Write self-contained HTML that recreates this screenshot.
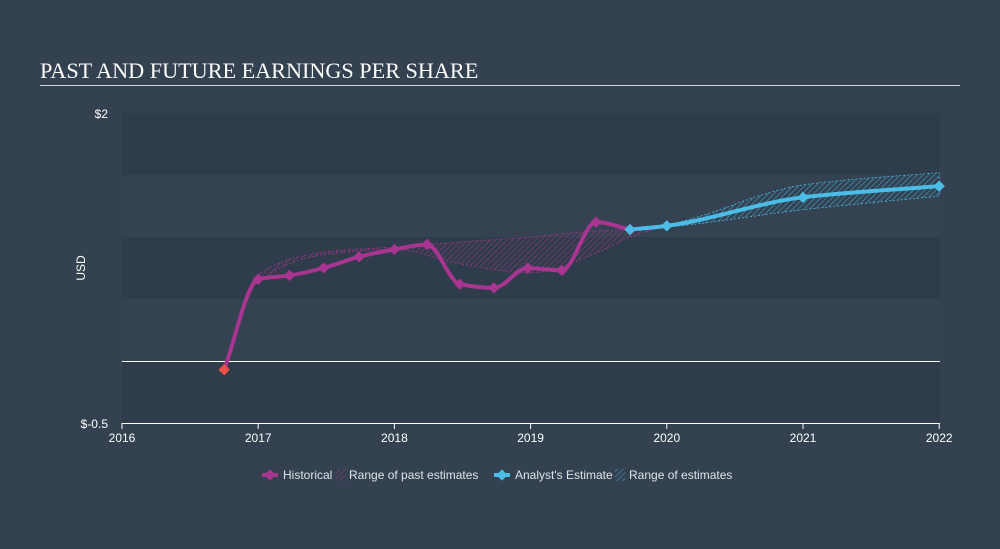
<!DOCTYPE html>
<html><head><meta charset="utf-8"><style>
body{margin:0;width:1000px;height:544px;background:#344150;overflow:hidden;font-family:"Liberation Sans",sans-serif}
</style></head><body>
<svg width="1000" height="544">
<defs>
<pattern id="hp" width="4" height="4" patternUnits="userSpaceOnUse" patternTransform="rotate(45)"><line x1="0" y1="0" x2="0" y2="4" stroke="#a0358c" stroke-width="1"/></pattern>
<pattern id="hf" width="4" height="4" patternUnits="userSpaceOnUse" patternTransform="rotate(45)"><line x1="0" y1="0" x2="0" y2="4" stroke="#3fb2dc" stroke-width="1"/></pattern>
</defs>
<text x="40" y="78" font-family="Liberation Serif,serif" font-size="22.2" fill="#fff">PAST AND FUTURE EARNINGS PER SHARE</text>
<line x1="40" y1="85.5" x2="960" y2="85.5" stroke="#cfd4da"/>
<g id="bands"></g>
<g id="series"></g>
<g id="axes"></g>
<g id="marks"></g>
<text transform="translate(85,268) rotate(-90)" text-anchor="middle" font-size="12" fill="#fff">USD</text>
<g font-size="12" fill="#dfe3e8">
<g><line x1="262" y1="475" x2="278" y2="475" stroke="#a8358f" stroke-width="4"/><rect x="266" y="471" width="8" height="8" fill="#a8358f" transform="rotate(45 270 475)"/><text x="283" y="479">Historical</text></g>
<g><rect x="336" y="469" width="10" height="12" fill="url(#hp)"/><text x="349" y="479">Range of past estimates</text></g>
<g><line x1="494" y1="475" x2="510" y2="475" stroke="#4bbde6" stroke-width="4"/><rect x="498" y="471" width="8" height="8" fill="#4bbde6" transform="rotate(45 502 475)"/><text x="515" y="479">Analyst's Estimate</text></g>
<g><rect x="615" y="469" width="10" height="12" fill="url(#hf)"/><text x="629" y="479">Range of estimates</text></g>
</g>
</svg>
<script>
const histDates=[2016.75,2017.0,2017.23,2017.48,2017.74,2018.0,2018.24,2018.48,2018.73,2018.98,2019.23,2019.48,2019.73];
const histEps=[-0.07,0.66,0.69,0.75,0.84,0.9,0.94,0.62,0.59,0.75,0.73,1.12,1.06];
const fcDates=[2019.73,2020.0,2021.0,2022.0];
const fcEps=[1.06,1.09,1.32,1.41];
const fcHigh=[1.06,1.1,1.42,1.52];
const fcLow=[1.06,1.08,1.22,1.33];
const pastRangeDates=[2016.75,2017.0,2017.5,2018.0,2018.5,2019.0,2019.5,2019.73,2020.0];
const pastHigh=[-0.07,0.7,0.88,0.92,0.96,1.0,1.05,1.06,1.09];
const pastLow=[-0.07,0.64,0.86,0.9,0.78,0.71,0.88,1.0,1.09];
const yTicks=[2,-0.5];
const xTicks=[2016,2017,2018,2019,2020,2021,2022];
const X=d=>122+(d-2016)*136.2, Y=v=>361-v*124;
const NS="http://www.w3.org/2000/svg";
function mk(p,t,a){const e=document.createElementNS(NS,t);for(const k in a)e.setAttribute(k,a[k]);p.appendChild(e);return e;}
const bands=document.getElementById('bands'),axes=document.getElementById('axes'),ser=document.getElementById('series'),marks=document.getElementById('marks');
const bandCols=['#2f3c4b','#344251','#2f3c4b','#344251','#2f3c4b'];
for(let i=0;i<5;i++){const r=mk(bands,'rect',{x:122,y:Y(2-i*0.5),width:818,height:62,fill:bandCols[i]});

}
const z=mk(axes,'line',{x1:122,x2:940,y1:Y(0)+0.5,y2:Y(0)+0.5,stroke:'#fff','stroke-width':1});


const xa=mk(axes,'line',{x1:122,x2:940,y1:423.5,y2:423.5,stroke:'#fff'});


yTicks.forEach(v=>{const t=mk(axes,'text',{x:108,y:Y(v)+5,'text-anchor':'end','font-size':12,fill:'#fff'});t.textContent=(v<0?'$-':'$')+Math.abs(v);

});
xTicks.forEach(d=>{mk(axes,'line',{x1:X(d),x2:X(d),y1:423,y2:429,stroke:'#fff'});const t=mk(axes,'text',{x:X(d),y:442,'text-anchor':'middle','font-size':12,fill:'#fff'});t.textContent=d;

});
// monotone cubic (like d3.curveMonotoneX)
function smooth(xs,ys){const p=xs.map((x,i)=>[X(x),Y(ys[i])]);const n=p.length;const m=[],s=[];
for(let i=0;i<n-1;i++){s.push((p[i+1][1]-p[i][1])/(p[i+1][0]-p[i][0]));}
for(let i=0;i<n;i++){if(i==0)m.push(s[0]);else if(i==n-1)m.push(s[n-2]);else{if(s[i-1]*s[i]<=0)m.push(0);else{const h0=p[i][0]-p[i-1][0],h1=p[i+1][0]-p[i][0];m.push(3*(h0+h1)/((2*h1+h0)/s[i-1]+(h1+2*h0)/s[i]));}}}
let d='M'+p[0];for(let i=0;i<n-1;i++){const h=(p[i+1][0]-p[i][0])/3;d+='C'+[p[i][0]+h,p[i][1]+m[i]*h]+' '+[p[i+1][0]-h,p[i+1][1]-m[i+1]*h]+' '+p[i+1];}return {d,p};}
function area(xs,hi,lo,fill,stroke,name){const a=smooth(xs,hi),b=smooth(xs.slice().reverse(),lo.slice().reverse());const e=mk(ser,'path',{d:a.d+'L'+b.d.slice(1)+'Z',fill:fill,stroke:stroke,'stroke-width':0.8,'stroke-dasharray':'2,2'});

}
area(pastRangeDates,pastHigh,pastLow,'url(#hp)','#a8358f','past-estimate-range');
area(fcDates,fcHigh,fcLow,'url(#hf)','#4bbde6','estimate-range');
function line(xs,ys,col,name){const s=smooth(xs,ys);const e=mk(marks,'path',{d:s.d,fill:'none',stroke:col,'stroke-width':4});

return s.p;}
const hp=line(histDates,histEps,'#a8358f','historical-line');
const fp=line(fcDates,fcEps,'#4bbde6','forecast-line');
hp.forEach((q,i)=>{const m=mk(marks,'rect',{x:q[0]-4,y:q[1]-4,width:8,height:8,fill:i==0?'#f0504a':'#a8358f',transform:`rotate(45 ${q[0]} ${q[1]})`});

});
fp.forEach(q=>{const m=mk(marks,'rect',{x:q[0]-4,y:q[1]-4,width:8,height:8,fill:'#4bbde6',transform:`rotate(45 ${q[0]} ${q[1]})`});

});
</script>
</body></html>
